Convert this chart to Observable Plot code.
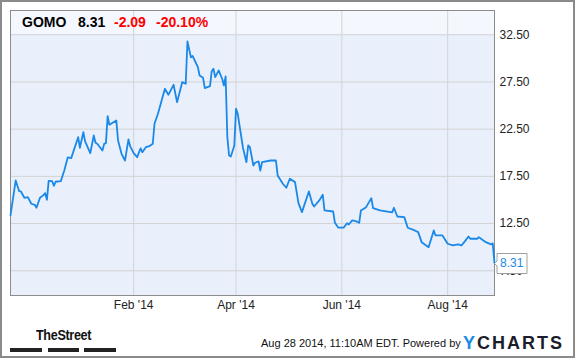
<!DOCTYPE html>
<html>
<head>
<meta charset="utf-8">
<script src="https://cdn.jsdelivr.net/npm/d3@7"></script>
<script src="https://cdn.jsdelivr.net/npm/@observablehq/plot@0.6"></script>
<style>
  body { margin: 0; background: #fff; }
  #wrap { position: relative; width: 575px; height: 358px; overflow: hidden; background: #fff;
          font-family: "Liberation Sans", Arial, sans-serif; }
  #plotbg { position: absolute; left: 10px; top: 10px; width: 484px; height: 285px; background: #e9f0fb; }
  #band { position: absolute; left: 10px; top: 10px; width: 484px; height: 24px; background: #f4f7fd; }
  #chart { position: absolute; left: 0; top: 0; z-index: 1; }
  #chart svg { background: transparent; }
  #chart g[aria-label="tip"] text { fill: #1a88e8; }
  .hd { position: absolute; top: 14px; font-weight: bold; font-size: 14px; white-space: nowrap; z-index: 2; }
  .blk { color: #000; }
  .red { color: #ff0000; }
  #street { position: absolute; left: 36px; top: 326px; font-family: "Liberation Sans Narrow", "Liberation Sans", Arial, sans-serif;
            font-weight: bold; font-size: 15px; letter-spacing: -0.4px; color: #111; z-index: 2;
            transform: scaleX(0.84); transform-origin: left top; }
  .bar { position: absolute; top: 348px; height: 4px; background: #222; z-index: 2; }
  #stamp { position: absolute; left: 261px; top: 337px; font-size: 11px; color: #111; white-space: nowrap; z-index: 2; }
  #yc { position: absolute; left: 463px; top: 333px; font-size: 18px; font-weight: bold; letter-spacing: 2px;
        color: #1c1c2a; white-space: nowrap; z-index: 2; }
  #yc .y { color: #1b8ae6; }
  #border { position: absolute; left: 0; top: 0; width: 575px; height: 358px; box-sizing: border-box;
            border: 2px solid #8a8a8a; z-index: 3; pointer-events: none; }
</style>
</head>
<body>
<div id="wrap">
  <div id="plotbg"></div>
  <div id="band"></div>
  <div id="chart"></div>
  <div class="hd blk" id="h1" style="left:22px"></div>
  <div class="hd blk" id="h2" style="left:78px"></div>
  <div class="hd red" id="h3" style="left:114px"></div>
  <div class="hd red" id="h4" style="left:156px"></div>
  <div id="street">TheStreet</div>
  <div class="bar" style="left:10px;width:32px"></div>
  <div class="bar" style="left:48px;width:31px"></div>
  <div class="bar" style="left:84px;width:32px"></div>
  <div id="stamp"></div>
  <div id="yc"><span class="y">Y</span>CHARTS</div>
  <div id="border"></div>
</div>
<script>
// ---- data ----
const ticker = "GOMO";
const lastPrice = 8.31;
const change = -2.09;
const changePct = -20.10;
const stampText = "Aug 28 2014, 11:10AM EDT.  Powered by";

const dates = [
  "2013-11-22","2013-11-25","2013-11-27","2013-11-28","2013-11-30","2013-12-02","2013-12-04","2013-12-06","2013-12-07","2013-12-09",
  "2013-12-11","2013-12-12","2013-12-13","2013-12-14","2013-12-16","2013-12-17","2013-12-18","2013-12-21","2013-12-23","2013-12-25",
  "2013-12-27","2013-12-31","2014-01-01","2014-01-03","2014-01-04","2014-01-07","2014-01-09","2014-01-10","2014-01-11","2014-01-14",
  "2014-01-15","2014-01-16","2014-01-17","2014-01-18","2014-01-22","2014-01-23","2014-01-25","2014-01-27","2014-01-29","2014-01-30",
  "2014-02-01","2014-02-03","2014-02-05","2014-02-06","2014-02-08","2014-02-10","2014-02-12","2014-02-13","2014-02-15","2014-02-19",
  "2014-02-21","2014-02-24","2014-02-26","2014-03-01","2014-03-03","2014-03-04","2014-03-06","2014-03-07","2014-03-10","2014-03-11",
  "2014-03-13","2014-03-14","2014-03-17","2014-03-18","2014-03-19","2014-03-20","2014-03-22","2014-03-24","2014-03-25","2014-03-26",
  "2014-03-27","2014-03-28","2014-03-29","2014-03-31","2014-04-01","2014-04-02","2014-04-05","2014-04-07","2014-04-08","2014-04-09",
  "2014-04-11","2014-04-12","2014-04-14","2014-04-15","2014-04-16","2014-04-21","2014-04-24","2014-04-25","2014-04-28","2014-04-30",
  "2014-05-02","2014-05-05","2014-05-07","2014-05-09","2014-05-13","2014-05-15","2014-05-16","2014-05-19","2014-05-21","2014-05-22",
  "2014-05-27","2014-05-28","2014-05-30","2014-06-02","2014-06-04","2014-06-05","2014-06-07","2014-06-09","2014-06-11","2014-06-12",
  "2014-06-15","2014-06-18","2014-06-19","2014-06-23","2014-06-30","2014-07-01","2014-07-03","2014-07-07","2014-07-09","2014-07-13",
  "2014-07-15","2014-07-17","2014-07-21","2014-07-24","2014-07-25","2014-07-29","2014-08-01","2014-08-04","2014-08-07","2014-08-09",
  "2014-08-11","2014-08-13","2014-08-14","2014-08-18","2014-08-19","2014-08-21","2014-08-23","2014-08-26","2014-08-27","2014-08-28"
];
const closes = [
  13.36,17.07,15.93,15.90,15.23,15.30,14.60,14.49,14.17,15.23,
  15.51,15.72,15.02,17.03,16.99,16.50,16.93,16.99,18.12,19.50,
  19.43,21.65,20.53,22.18,21.20,19.96,21.83,21.06,20.95,20.24,
  20.95,21.02,23.88,22.97,23.42,21.30,19.89,19.18,21.41,20.67,
  19.96,19.53,20.46,20.06,20.59,20.70,20.95,23.07,24.13,26.78,
  26.14,27.20,25.36,27.48,27.31,31.79,30.10,30.25,29.07,28.19,
  27.94,26.84,27.06,28.64,28.90,28.01,28.72,27.84,27.13,28.08,
  21.65,19.71,19.61,20.74,24.66,24.13,20.53,19.00,20.77,20.59,
  18.65,18.94,19.08,18.12,19.00,19.18,19.18,17.60,16.72,16.29,
  17.25,16.89,14.66,13.71,15.90,14.60,14.31,14.95,15.55,13.89,
  13.78,12.58,12.06,12.06,12.54,12.40,12.83,12.76,12.58,13.89,
  14.24,15.19,14.13,13.89,13.68,14.17,13.25,13.18,12.06,11.77,
  11.59,10.53,10.00,11.77,11.24,11.24,10.36,10.18,10.29,10.18,
  10.64,11.13,10.89,10.89,11.06,10.78,10.53,10.29,10.40,8.31
];
const yTicks = [7.5, 12.5, 17.5, 22.5, 27.5, 32.5];
const xTicks = ["2014-02-01", "2014-04-01", "2014-06-01", "2014-08-01"];
const xDomain = ["2013-11-22", "2014-08-28"];
const yDomain = [4.88, 35.07];

// ---- build ----
const data = dates.map((d, i) => ({date: new Date(d), close: closes[i]}));
const last = data[data.length - 1];
const xTickDates = xTicks.map(d => new Date(d));

document.getElementById("h1").textContent = ticker;
document.getElementById("h2").textContent = lastPrice.toFixed(2);
document.getElementById("h3").textContent = change.toFixed(2);
document.getElementById("h4").textContent = changePct.toFixed(2) + "%";
document.getElementById("stamp").textContent = stampText;

const chart = Plot.plot({
  width: 575,
  height: 358,
  marginLeft: 10,
  marginRight: 81,
  marginTop: 10,
  marginBottom: 63,
  style: {background: "transparent", fontFamily: "Liberation Sans, Arial, sans-serif", fontSize: "12px", color: "#222"},
  x: {type: "utc", domain: xDomain.map(d => new Date(d))},
  y: {domain: yDomain},
  marks: [
    Plot.gridY(yTicks, {stroke: "#d3d3d3", strokeOpacity: 1}),
    Plot.gridX(xTickDates, {stroke: "#d3d3d3", strokeOpacity: 1}),
    Plot.axisY(yTicks, {anchor: "right", tickSize: 0, tickPadding: 5, textAnchor: "start", tickFormat: d3.format(".2f"), label: null, fill: "#222"}),
    Plot.axisX(xTickDates, {anchor: "bottom", tickSize: 0, tickPadding: 5, tickFormat: d3.utcFormat("%b '%y"), label: null, fill: "#222"}),
    Plot.frame({stroke: "#8c8c8c"}),
    Plot.line(data, {x: "date", y: "close", stroke: "#1a88e8", strokeWidth: 1.8, strokeLinejoin: "round"}),
    Plot.tip([last], {x: "date", y: "close", title: d => d.close.toFixed(2), anchor: "left",
      fill: "white", stroke: "#a0a0a0", pointerSize: 5, textPadding: 3, fontSize: 12, pathFilter: "none"})
  ]
});
document.getElementById("chart").appendChild(chart);
</script>
</body>
</html>
